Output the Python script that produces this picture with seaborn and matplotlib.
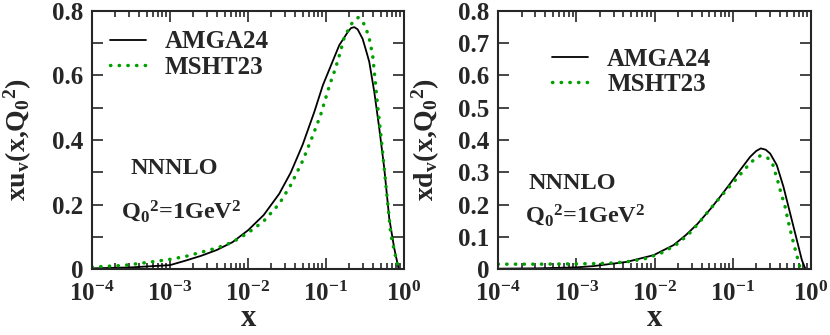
import numpy as np
import matplotlib
matplotlib.use("Agg")
import matplotlib.pyplot as plt
import matplotlib.ticker as mticker
import seaborn as sns

# values; x kept as log10(x)
uv_amga_logx = [-4.0, -3.5, -3.0, -2.8, -2.6, -2.4, -2.2, -2.0, -1.8, -1.6, -1.45, -1.3,
                -1.15, -1.04, -0.935, -0.83, -0.72, -0.68, -0.637, -0.594, -0.531, -0.487,
                -0.445, -0.381, -0.317, -0.253, -0.189, -0.125, -0.07]
uv_amga = [0.002, 0.005, 0.012, 0.026, 0.041, 0.059, 0.083, 0.120, 0.167, 0.233, 0.300, 0.385,
           0.487, 0.570, 0.632, 0.694, 0.735, 0.747, 0.750, 0.743, 0.714, 0.678,
           0.642, 0.549, 0.436, 0.312, 0.157, 0.064, 0.002]

uv_msht_logx = [-4.0, -3.6, -3.3, -3.0, -2.8, -2.6, -2.4, -2.2, -2.0, -1.8, -1.6, -1.45,
                -1.3, -1.18, -1.07, -1.01, -0.95, -0.88, -0.816, -0.765, -0.714, -0.658,
                -0.586, -0.522, -0.479, -0.445, -0.402, -0.38, -0.36, -0.339, -0.296,
                -0.232, -0.168, -0.083, -0.06]
uv_msht = [0.006, 0.011, 0.020, 0.030, 0.039, 0.052, 0.065, 0.083, 0.112, 0.148, 0.202, 0.261,
           0.335, 0.407, 0.477, 0.525, 0.573, 0.621, 0.673, 0.719, 0.742, 0.766,
           0.780, 0.764, 0.740, 0.714, 0.663, 0.610, 0.560, 0.508, 0.415,
           0.260, 0.105, 0.012, 0.0]

dv_amga_logx = [-4.0, -3.5, -3.0, -2.78, -2.355, -2.01, -1.757, -1.6, -1.45, -1.289, -1.161,
                -1.033, -0.905, -0.777, -0.7, -0.641, -0.58, -0.522, -0.437, -0.352,
                -0.266, -0.181, -0.117, -0.074]
dv_amga = [0.001, 0.002, 0.005, 0.009, 0.022, 0.043, 0.074, 0.105, 0.140, 0.185, 0.224,
           0.265, 0.307, 0.348, 0.366, 0.374, 0.370, 0.358, 0.322, 0.255,
           0.172, 0.090, 0.028, 0.002]

dv_msht_logx = [-4.0, -3.5, -3.0, -2.7, -2.5, -2.3, -2.1, -1.91, -1.73, -1.57, -1.425, -1.353,
                -1.225, -1.088, -0.948, -0.811, -0.734, -0.65, -0.556, -0.492, -0.458,
                -0.428, -0.402, -0.372, -0.338, -0.295, -0.244, -0.189, -0.147, -0.13]
dv_msht = [0.015, 0.015, 0.016, 0.017, 0.019, 0.024, 0.033, 0.050, 0.074, 0.106, 0.145, 0.167,
           0.204, 0.243, 0.281, 0.319, 0.338, 0.351, 0.345, 0.327, 0.299,
           0.276, 0.252, 0.226, 0.201, 0.152, 0.100, 0.049, 0.010, 0.0]

GREEN = "#00a000"

sns.set_style("ticks")
plt.rcParams["font.family"] = ["Liberation Serif", "DejaVu Serif"]
plt.rcParams["font.weight"] = "bold"
plt.rcParams["axes.labelweight"] = "bold"
plt.rcParams["axes.unicode_minus"] = False
plt.rcParams["mathtext.fontset"] = "custom"
plt.rcParams["mathtext.rm"] = "Liberation Serif:bold"
plt.rcParams["mathtext.it"] = "Liberation Serif:bold"
plt.rcParams["mathtext.bf"] = "Liberation Serif:bold"
plt.rcParams["axes.linewidth"] = 1.5


def ytick_fmt(v, pos):
    return "0" if abs(v) < 1e-9 else f"{v:.1f}"


def draw_panel(ax, ax_a, ya, ax_m, ym, ylabel, ystep, leg_anchor, nnnlo_xy, q_xy, ylab_x):
    sns.lineplot(x=10 ** np.array(ax_a), y=ya, ax=ax, color="black", lw=1.3,
                 label="AMGA24", estimator=None, sort=False)
    sns.lineplot(x=10 ** np.array(ax_m), y=ym, ax=ax, color=GREEN, lw=2.5,
                 linestyle=(0, (0.1, 2.4)), dash_capstyle="round",
                 label="MSHT23", estimator=None, sort=False)
    ax.set_xscale("log")
    ax.set_xlim(1e-4, 1)
    ax.set_ylim(0, 0.8)
    ax.xaxis.set_major_locator(mticker.LogLocator(base=10, numticks=10))
    ax.xaxis.set_minor_locator(mticker.LogLocator(base=10, subs=np.arange(2, 10), numticks=10))
    ax.xaxis.set_minor_formatter(mticker.NullFormatter())
    ax.yaxis.set_major_locator(mticker.MultipleLocator(ystep))
    ax.yaxis.set_minor_locator(mticker.MultipleLocator(0.1))
    ax.yaxis.set_major_formatter(mticker.FuncFormatter(ytick_fmt))
    ax.tick_params(which="both", direction="in", top=True, right=True, width=1.2)
    ax.tick_params(which="major", length=8)
    ax.tick_params(axis="y", which="major", pad=6)
    ax.tick_params(axis="x", which="major", pad=9)
    ax.tick_params(axis="x", which="minor", length=4)
    ax.tick_params(axis="y", which="minor", length=8)
    ax.tick_params(axis="y", labelsize=18)
    ax.tick_params(axis="x", labelsize=18)
    ax.set_xlabel("x", fontsize=22, fontweight="bold", va="baseline")
    ax.xaxis.set_label_coords(0.5, -0.222)
    ax.set_ylabel(ylabel, fontsize=20, fontweight="bold")
    ax.yaxis.set_label_coords(ylab_x, 0.5)
    ax.legend(loc="upper left", bbox_to_anchor=leg_anchor, frameon=False, fontsize=18,
              handlelength=1.45, handletextpad=0.75, labelspacing=0.1,
              borderpad=0, borderaxespad=0)
    ax.text(*nnnlo_xy, "NNNLO", transform=ax.transAxes, ha="center", va="center",
            fontsize=17.5, fontweight="bold")
    ax.text(*q_xy, r"Q$_0{}^2$=1GeV$^2$", transform=ax.transAxes, ha="center", va="center",
            fontsize=17.5, fontweight="bold")


fig = plt.figure(figsize=(8.3, 3.35), dpi=100)
ax1 = fig.add_axes([92 / 830, 66 / 335, 312 / 830, 258 / 335])
ax2 = fig.add_axes([498 / 830, 66 / 335, 313 / 830, 258 / 335])

draw_panel(ax1, uv_amga_logx, uv_amga, uv_msht_logx, uv_msht,
           r"xu$_{\rm v}$(x,Q$_0{}^2$)", 0.2, (0.058, 0.925), (0.263, 0.39), (0.285, 0.225), -0.185)
draw_panel(ax2, dv_amga_logx, dv_amga, dv_msht_logx, dv_msht,
           r"xd$_{\rm v}$(x,Q$_0{}^2$)", 0.1, (0.173, 0.858), (0.237, 0.33), (0.278, 0.21), -0.18)

fig.savefig("out.png", dpi=100)
